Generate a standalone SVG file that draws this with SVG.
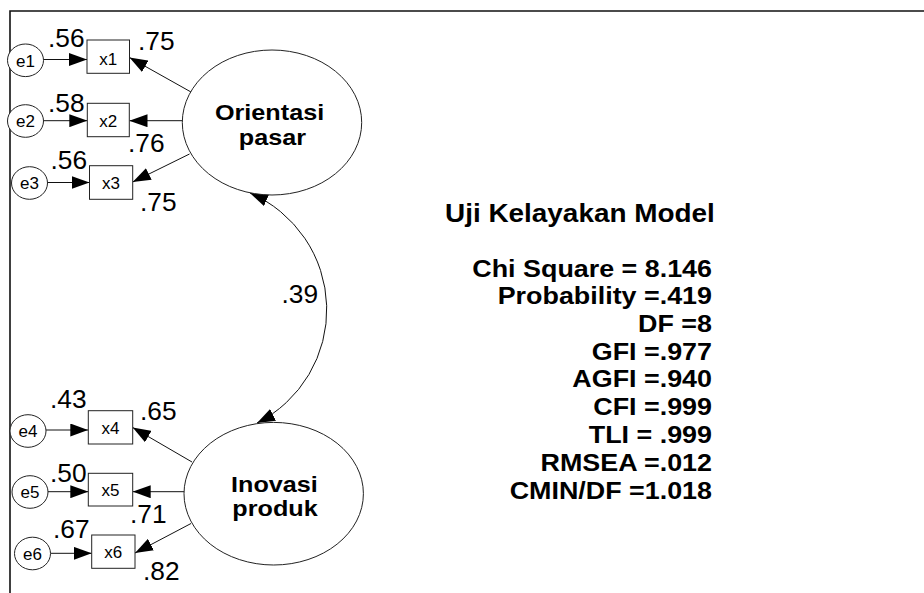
<svg xmlns="http://www.w3.org/2000/svg" width="924" height="593" viewBox="0 0 924 593">
<style>
text{font-family:"Liberation Sans",Arial,sans-serif;fill:#000}
.lbl{font-size:26.3px}
.var{font-size:17px;text-anchor:middle}
.lat{font-size:22.5px;font-weight:bold;text-anchor:middle}
.stat{font-size:24px;font-weight:bold;text-anchor:end}
.sh{fill:#fff;stroke:#222;stroke-width:1}
.ln{fill:none;stroke:#111;stroke-width:1}
</style>
<defs>
<marker id="ah" markerUnits="userSpaceOnUse" markerWidth="18" markerHeight="13" refX="18" refY="6.5" orient="auto-start-reverse">
<path d="M0,0 L18,6.5 L0,13 Z" fill="#000"/>
</marker>
</defs>
<rect x="0" y="0" width="924" height="593" fill="#fff"/>
<g id="frame">
<path d="M10,593 L10,11 L924,11" fill="none" stroke="#111" stroke-width="1.6"/>
</g>
<g id="connectors">
<line class="ln" x1="43.5" y1="59.5" x2="87" y2="59.5" marker-end="url(#ah)"/>
<line class="ln" x1="43.5" y1="120.7" x2="87.3" y2="120.7" marker-end="url(#ah)"/>
<line class="ln" x1="47.5" y1="182.5" x2="89.5" y2="182.5" marker-end="url(#ah)"/>
<line class="ln" x1="46" y1="430" x2="88.3" y2="430" marker-end="url(#ah)"/>
<line class="ln" x1="48" y1="491.7" x2="88.3" y2="491.7" marker-end="url(#ah)"/>
<line class="ln" x1="50.5" y1="553.3" x2="91.7" y2="553.3" marker-end="url(#ah)"/>
<line class="ln" x1="191" y1="92" x2="129.5" y2="57.5" marker-end="url(#ah)"/>
<line class="ln" x1="182.5" y1="120.7" x2="129.5" y2="120.7" marker-end="url(#ah)"/>
<line class="ln" x1="189.5" y1="154" x2="132.7" y2="182" marker-end="url(#ah)"/>
<line class="ln" x1="192" y1="462" x2="132.7" y2="427.5" marker-end="url(#ah)"/>
<line class="ln" x1="184.5" y1="491.7" x2="132.7" y2="491.7" marker-end="url(#ah)"/>
<line class="ln" x1="191" y1="523.5" x2="135" y2="553" marker-end="url(#ah)"/>
<path class="ln" d="M250,193 A127,127 0 0 1 257,423" marker-start="url(#ah)" marker-end="url(#ah)"/>
<text class="lbl" x="281.5" y="302.7">.39</text>
</g>
<g id="e1"><ellipse class="sh" cx="25.5" cy="60.3" rx="18" ry="16.3"/><text class="var" x="25.5" y="66.5">e1</text></g>
<g id="e2"><ellipse class="sh" cx="25.5" cy="121" rx="18" ry="16.3"/><text class="var" x="25.5" y="127.2">e2</text></g>
<g id="e3"><ellipse class="sh" cx="29.5" cy="183" rx="18" ry="16.3"/><text class="var" x="29.5" y="189.2">e3</text></g>
<g id="e4"><ellipse class="sh" cx="28" cy="431" rx="18" ry="16.3"/><text class="var" x="28" y="437.2">e4</text></g>
<g id="e5"><ellipse class="sh" cx="30" cy="492" rx="18" ry="16.3"/><text class="var" x="30" y="498.2">e5</text></g>
<g id="e6"><ellipse class="sh" cx="32.5" cy="553.5" rx="18" ry="16.3"/><text class="var" x="32.5" y="559.7">e6</text></g>
<g id="x1"><rect class="sh" x="87" y="40" width="42.5" height="33.3"/><text class="var" x="108.3" y="64.5">x1</text></g>
<g id="x2"><rect class="sh" x="87.3" y="103.3" width="42" height="33.4"/><text class="var" x="108.3" y="127">x2</text></g>
<g id="x3"><rect class="sh" x="89.5" y="165.7" width="43.2" height="33.6"/><text class="var" x="111" y="189">x3</text></g>
<g id="x4"><rect class="sh" x="88.3" y="410.7" width="44.4" height="33.3"/><text class="var" x="110.5" y="434">x4</text></g>
<g id="x5"><rect class="sh" x="88.3" y="473.3" width="44.4" height="32.7"/><text class="var" x="110.5" y="496">x5</text></g>
<g id="x6"><rect class="sh" x="91.7" y="535" width="43.3" height="33.3"/><text class="var" x="113.3" y="558">x6</text></g>
<g id="orientasi">
<ellipse class="sh" cx="272" cy="122.5" rx="89.7" ry="72.5"/>
<text class="lat" transform="translate(271,0) scale(1.12,1)"><tspan x="-1.3" y="120.5">Orientasi</tspan><tspan x="1.3" y="145.3">pasar</tspan></text>
</g>
<g id="inovasi">
<ellipse class="sh" cx="273.7" cy="493.7" rx="89.7" ry="71.3"/>
<text class="lat" transform="translate(274.7,0) scale(1.12,1)"><tspan x="-0.2" y="491.7">Inovasi</tspan><tspan x="0.3" y="516.5">produk</tspan></text>
</g>
<g id="labels">
<text class="lbl" x="48" y="46.7">.56</text>
<text class="lbl" x="138" y="50">.75</text>
<text class="lbl" x="48" y="111.7">.58</text>
<text class="lbl" x="128" y="151.7">.76</text>
<text class="lbl" x="50.5" y="169">.56</text>
<text class="lbl" x="140" y="211">.75</text>
<text class="lbl" x="50" y="408.3">.43</text>
<text class="lbl" x="140" y="420">.65</text>
<text class="lbl" x="50" y="481.7">.50</text>
<text class="lbl" x="130" y="523.3">.71</text>
<text class="lbl" x="53" y="538.3">.67</text>
<text class="lbl" x="143" y="580">.82</text>
</g>
<g id="stats">
<text font-size="25.5" font-weight="bold" transform="translate(445,222) scale(1.095,1)">Uji Kelayakan Model</text>
<g transform="translate(712,0) scale(1.12,1)">
<text class="stat" x="0" y="277.3">Chi Square = 8.146</text>
<text class="stat" x="0" y="304.5">Probability =.419</text>
<text class="stat" x="0" y="332">DF =8</text>
<text class="stat" x="0" y="360">GFI =.977</text>
<text class="stat" x="0" y="387.5">AGFI =.940</text>
<text class="stat" x="0" y="415">CFI =.999</text>
<text class="stat" x="0" y="443.3">TLI = .999</text>
<text class="stat" x="0" y="471.5">RMSEA =.012</text>
<text class="stat" x="0" y="499.3">CMIN/DF =1.018</text>
</g>
</g>
</svg>
